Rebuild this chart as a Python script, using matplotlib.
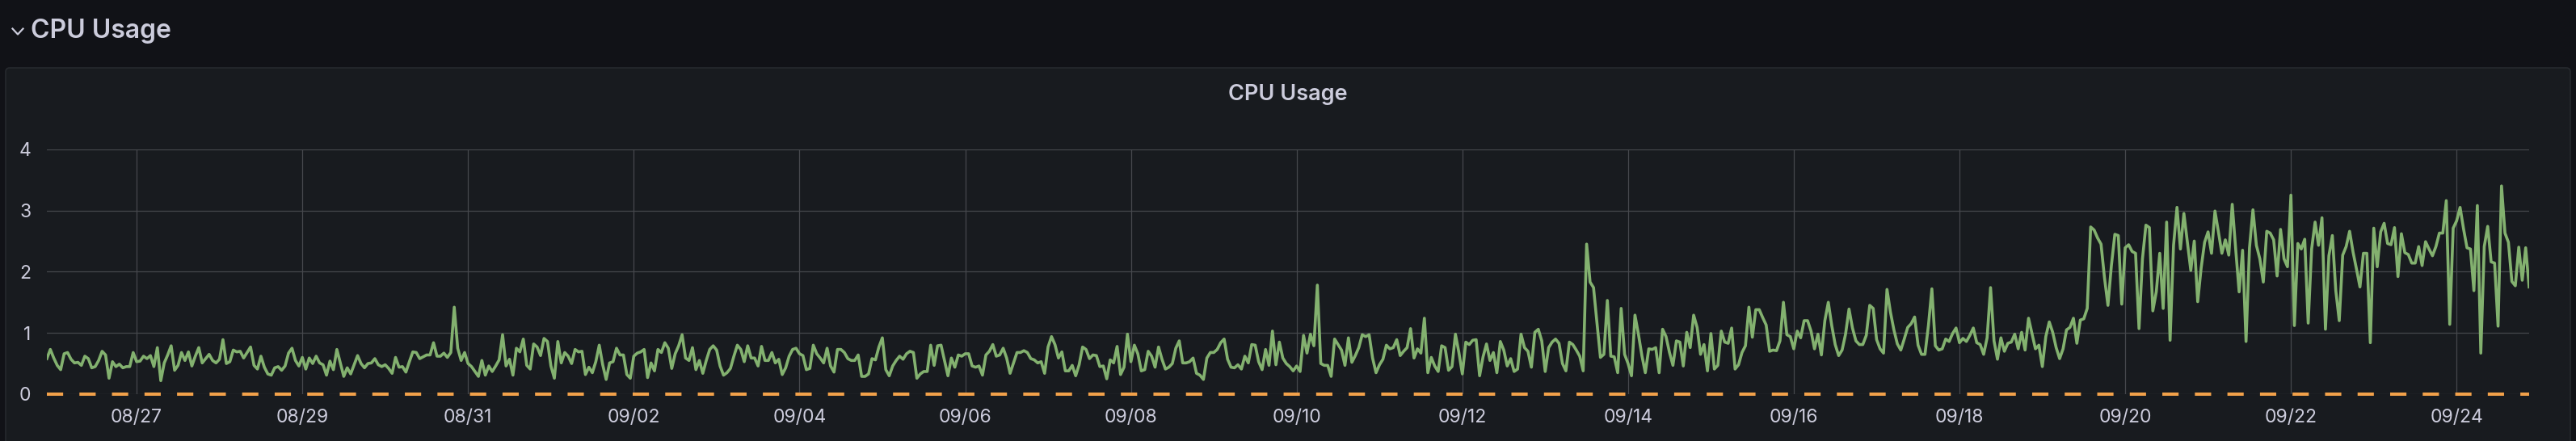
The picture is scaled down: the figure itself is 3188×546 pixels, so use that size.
import numpy as np
import pandas as pd
import matplotlib
matplotlib.use("Agg")
import matplotlib.pyplot as plt
import matplotlib.dates as mdates
from matplotlib.patches import FancyBboxPatch
from matplotlib.lines import Line2D
from matplotlib.transforms import IdentityTransform

# hourly samples, first one at 08/25 22:00
start = "2023-08-25 22:00"

cpu_0825_0830 = [
    0.58, 0.73, 0.59, 0.47, 0.40, 0.66, 0.68, 0.57, 0.51, 0.52,
    0.47, 0.62, 0.58, 0.43, 0.45, 0.55, 0.70, 0.64, 0.26, 0.53,
    0.45, 0.49, 0.43, 0.45, 0.45, 0.68, 0.53, 0.54, 0.62, 0.58,
    0.63, 0.45, 0.76, 0.22, 0.51, 0.64, 0.79, 0.39, 0.47, 0.68,
    0.55, 0.69, 0.46, 0.62, 0.76, 0.51, 0.58, 0.65, 0.55, 0.51,
    0.57, 0.89, 0.50, 0.53, 0.72, 0.69, 0.70, 0.59, 0.68, 0.77,
    0.47, 0.41, 0.62, 0.44, 0.33, 0.31, 0.43, 0.45, 0.39, 0.46,
    0.67, 0.75, 0.55, 0.46, 0.60, 0.41, 0.59, 0.50, 0.62, 0.51,
    0.48, 0.31, 0.54, 0.40, 0.73, 0.51, 0.29, 0.43, 0.33, 0.48,
    0.63, 0.50, 0.43, 0.50, 0.51, 0.58, 0.48, 0.45, 0.48, 0.42,
    0.34, 0.60, 0.44, 0.45, 0.36, 0.53, 0.69, 0.68, 0.58, 0.61,
    0.64, 0.64, 0.84, 0.62, 0.62, 0.67, 0.60, 0.68, 1.42, 0.75,
]
cpu_0830_0904 = [
    0.55, 0.68, 0.50, 0.45, 0.37, 0.29, 0.55, 0.31, 0.46, 0.37,
    0.46, 0.56, 0.97, 0.46, 0.57, 0.31, 0.75, 0.69, 0.90, 0.47,
    0.41, 0.82, 0.77, 0.63, 0.91, 0.86, 0.46, 0.26, 0.86, 0.51,
    0.68, 0.62, 0.50, 0.73, 0.69, 0.70, 0.32, 0.44, 0.35, 0.53,
    0.80, 0.48, 0.24, 0.51, 0.53, 0.75, 0.64, 0.64, 0.32, 0.26,
    0.62, 0.67, 0.69, 0.73, 0.27, 0.51, 0.38, 0.73, 0.68, 0.84,
    0.75, 0.42, 0.66, 0.79, 0.97, 0.59, 0.55, 0.76, 0.40, 0.55,
    0.34, 0.55, 0.73, 0.79, 0.72, 0.46, 0.31, 0.35, 0.42, 0.62,
    0.80, 0.73, 0.53, 0.79, 0.59, 0.59, 0.46, 0.78, 0.55, 0.55,
    0.68, 0.51, 0.57, 0.32, 0.43, 0.62, 0.73, 0.75, 0.66, 0.63,
    0.40, 0.42, 0.80, 0.66, 0.59, 0.51, 0.75, 0.46, 0.36, 0.73,
    0.73, 0.68, 0.58, 0.55, 0.55, 0.64, 0.29, 0.29,
]
cpu_0904_0909 = [
    0.33, 0.58,
    0.56, 0.77, 0.92, 0.40, 0.30, 0.46, 0.55, 0.62, 0.57, 0.66,
    0.70, 0.68, 0.26, 0.33, 0.37, 0.37, 0.80, 0.47, 0.79, 0.80,
    0.55, 0.30, 0.59, 0.44, 0.64, 0.62, 0.66, 0.66, 0.46, 0.44,
    0.46, 0.31, 0.64, 0.70, 0.81, 0.62, 0.64, 0.75, 0.59, 0.34,
    0.51, 0.68, 0.68, 0.71, 0.68, 0.58, 0.56, 0.51, 0.53, 0.34,
    0.77, 0.94, 0.81, 0.59, 0.69, 0.38, 0.38, 0.47, 0.30, 0.48,
    0.77, 0.73, 0.58, 0.64, 0.63, 0.45, 0.46, 0.25, 0.56, 0.51,
    0.78, 0.32, 0.44, 0.98, 0.53, 0.80, 0.66, 0.38, 0.40, 0.70,
    0.62, 0.44, 0.77, 0.57, 0.41, 0.44, 0.50, 0.75, 0.87, 0.51,
    0.51, 0.53, 0.59, 0.34, 0.31, 0.24, 0.59, 0.68, 0.68, 0.73,
    0.84, 0.90, 0.57, 0.44, 0.43, 0.48, 0.41, 0.62, 0.51, 0.81,
    0.80, 0.53, 0.40, 0.73, 0.47, 1.03,
]
cpu_0909_0914 = [
    0.48, 0.85, 0.59, 0.50,
    0.45, 0.38, 0.46, 0.37, 0.96, 0.67, 0.98, 0.79, 1.78, 0.50,
    0.47, 0.47, 0.29, 0.90, 0.81, 0.72, 0.47, 0.92, 0.52, 0.63,
    0.76, 0.97, 0.94, 0.97, 0.59, 0.35, 0.48, 0.57, 0.80, 0.74,
    0.76, 0.89, 0.63, 0.70, 0.76, 1.07, 0.59, 0.74, 0.67, 1.24,
    0.35, 0.60, 0.46, 0.37, 0.79, 0.76, 0.39, 0.45, 0.98, 0.68,
    0.33, 0.85, 0.81, 0.88, 0.89, 0.30, 0.61, 0.82, 0.55, 0.68,
    0.35, 0.86, 0.72, 0.46, 0.58, 0.37, 0.41, 0.98, 0.76, 0.70,
    0.44, 1.01, 1.06, 0.87, 0.37, 0.76, 0.85, 0.90, 0.83, 0.50,
    0.38, 0.85, 0.81, 0.72, 0.62, 0.38, 2.45, 1.83, 1.74, 1.16,
    0.60, 0.65, 1.53, 0.62, 0.61, 0.35, 1.40, 0.65, 0.50, 0.30,
    1.29, 0.98, 0.63, 0.35, 0.74, 0.73, 0.76, 0.35, 1.06, 0.94,
    0.68, 0.47, 0.87, 0.85, 0.46,
]
cpu_0914_0920 = [
    1.01, 0.76, 1.29, 1.09, 0.65,
    0.81, 0.38, 0.99, 0.41, 0.47, 1.03, 0.85, 0.83, 1.08, 0.41,
    0.48, 0.68, 0.79, 1.42, 0.93, 1.38, 1.38, 1.25, 1.13, 0.70,
    0.72, 0.71, 0.87, 1.50, 0.97, 0.94, 0.74, 1.03, 0.92, 1.20,
    1.20, 1.03, 0.74, 0.98, 0.64, 1.20, 1.50, 1.12, 0.81, 0.63,
    0.72, 0.98, 1.39, 1.08, 0.87, 0.81, 0.81, 0.96, 1.45, 1.40,
    0.89, 0.74, 0.67, 1.71, 1.34, 1.05, 0.82, 0.72, 0.90, 1.09,
    1.15, 1.26, 0.80, 0.65, 0.65, 1.12, 1.72, 0.79, 0.72, 0.74,
    0.90, 0.86, 0.99, 1.08, 0.84, 0.91, 0.86, 0.96, 1.08, 0.84,
    0.81, 0.65, 0.92, 1.74, 0.87, 0.57, 0.92, 0.70, 0.83, 0.85,
    0.98, 0.74, 1.01, 0.72, 1.24, 0.99, 0.74, 0.80, 0.45, 0.94,
    1.18, 1.01, 0.76, 0.58, 0.74, 1.05, 1.09, 1.24, 0.83, 1.21,
    1.23, 1.40, 2.73,
    2.68, 2.55, 2.45, 1.90, 1.45, 2.10, 2.61, 2.59, 1.47, 2.39, 2.44, 2.33,
]
cpu_0920_0924 = [
    2.30, 1.07, 2.21, 2.76, 2.72, 1.36, 1.67, 2.30, 1.40, 2.81,
    0.88, 2.43, 3.05, 2.37, 2.95, 2.48, 2.02, 2.50, 1.51, 2.06,
    2.48, 2.65, 2.30, 2.99, 2.65, 2.30, 2.52, 2.27, 3.10, 2.37,
    1.67, 2.35, 0.86, 2.39, 3.01, 2.43, 2.21, 1.83, 2.66, 2.63,
    2.52, 1.93, 2.69, 2.21, 2.08, 3.25, 1.12, 2.46, 2.37, 2.53,
    1.16, 2.37, 2.81, 2.43, 2.88, 1.06, 2.26, 2.59, 1.69, 1.20,
    2.27, 2.41, 2.66, 2.32, 2.04, 1.75, 2.30, 2.30, 0.84, 2.71,
    2.08, 2.65, 2.79, 2.46, 2.44, 2.72, 1.92, 2.62, 2.31, 2.28,
    2.14, 2.14, 2.41, 2.10, 2.49, 2.37, 2.26, 2.41, 2.63, 2.63,
    3.16, 1.14, 2.71, 2.83, 3.05, 2.70, 2.39, 2.37, 1.69, 3.08,
    0.67, 2.41, 2.74, 2.16, 2.14, 1.11, 3.40, 2.63, 2.48, 1.84,
    1.77, 2.40, 1.86, 2.39, 1.75,
]
limit_value = 0.0

tick_days = pd.date_range("2023-08-27", "2023-09-24", freq="2D")
y_ticks = [0, 1, 2, 3, 4]

cpu = np.array(cpu_0825_0830 + cpu_0830_0904 + cpu_0904_0909 +
               cpu_0909_0914 + cpu_0914_0920 + cpu_0920_0924)
times = pd.date_range(start, periods=len(cpu), freq="h")
limit = np.full(len(cpu), limit_value)

plt.rcParams["font.family"] = ["Inter", "DejaVu Sans"]
TEXT = "#ccccdc"

W, H = 3188, 546
fig = plt.figure(figsize=(W / 100, H / 100), dpi=100, facecolor="#111217")

# panel box (pixel coords, origin bottom-left), behind the axes
panel = FancyBboxPatch((7, -20), 3174, H - 84 + 20,
                       boxstyle="round,pad=0,rounding_size=5",
                       transform=IdentityTransform(), zorder=-5,
                       facecolor="#181b1f", edgecolor="#26292e", lw=1.2)
fig.add_artist(panel)

# row header: chevron + title
chev = Line2D([15.5, 22, 28.5], [H - 35.5, H - 42.5, H - 35.5],
              transform=IdentityTransform(), color=TEXT, lw=1.6)
fig.add_artist(chev)
fig.text(38 / W, 1 - 38 / H, "CPU Usage", fontsize=23, fontweight="semibold",
         color=TEXT, ha="left", va="center")
fig.text(1594 / W, 1 - 117 / H, "CPU Usage", fontsize=19.5, fontweight="semibold",
         color=TEXT, ha="center", va="center")

ax = fig.add_axes([58 / W, 1 - 488 / H, (3130 - 58) / W, (488 - 184.7) / H],
                  zorder=2)
ax.set_facecolor("none")
ax.plot(times, cpu, color="#83b16f", lw=2.6, zorder=3)
ax.plot(times, limit, color="#f2a14a", lw=2.9, dashes=(5, 5), zorder=4,
        clip_on=False, dash_capstyle="butt")

ax.set_xlim(times[0], times[-1])
ax.set_ylim(0, 4)
ax.set_yticks(y_ticks)
ax.set_xticks(tick_days)
ax.xaxis.set_major_formatter(mdates.DateFormatter("%m/%d"))
ax.grid(True, color="#46484d", lw=0.9)
ax.set_axisbelow(True)
for s in ax.spines.values():
    s.set_visible(False)
ax.tick_params(axis="both", length=0, labelcolor=TEXT, labelsize=16.5)
ax.tick_params(axis="x", pad=13)
ax.tick_params(axis="y", pad=14)

fig.savefig("out.png", dpi=100, facecolor=fig.get_facecolor())
